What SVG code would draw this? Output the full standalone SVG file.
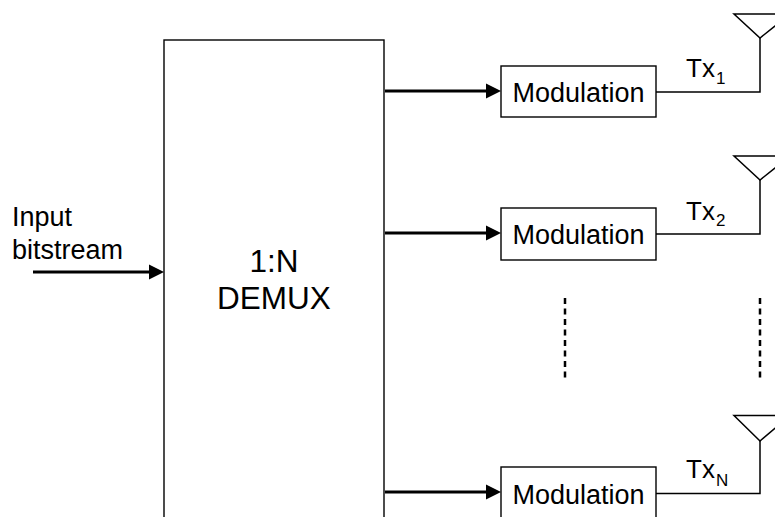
<svg xmlns="http://www.w3.org/2000/svg" width="775" height="517" viewBox="0 0 775 517">
<style>
text{font-family:"Liberation Sans",Arial,sans-serif;fill:#000}
.t{font-size:31.500px}
.m{font-size:27px}
.x{font-size:26px}
.s{font-size:17px}
.box{fill:#fff;stroke:#000;stroke-width:1.4}
.thin{fill:none;stroke:#000;stroke-width:1.5}
.thick{fill:none;stroke:#000;stroke-width:3}
.dash{fill:none;stroke:#000;stroke-width:2.5;stroke-dasharray:6 4.5}
.head{fill:#000}
</style>
<rect width="775" height="517" fill="#fff"/>
<g id="connectors">
<path class="thick" d="M33 272H150"/><path class="head" d="M149 264.500L164 272L149 279.500Z"/>
<path class="thick" d="M385 91H487"/><path class="head" d="M486 83.500L501 91L486 98.500Z"/>
<path class="thick" d="M385 233H487"/><path class="head" d="M486 225.500L501 233L486 240.500Z"/>
<path class="thick" d="M385 492H487"/><path class="head" d="M486 484.500L501 492L486 499.500Z"/>
<path class="thin" d="M656 92H760V38"/>
<path class="thin" d="M656 234H760V180"/>
<path class="thin" d="M656 493.500H760V441"/>
<path class="dash" d="M565 298V378"/>
<path class="dash" d="M760 298V378"/>
</g>
<g id="demux"><rect class="box" x="164" y="40" width="220" height="490"/>
<text class="t" x="274" y="272" text-anchor="middle">1:N</text>
<text class="t" x="274" y="309" text-anchor="middle">DEMUX</text></g>
<g id="input"><text class="m" x="12" y="226">Input</text><text class="m" x="12" y="259">bitstream</text></g>
<g id="mod1"><rect class="box" x="501" y="66" width="155" height="51"/><text class="m" x="578.500" y="102" text-anchor="middle">Modulation</text></g>
<g id="mod2"><rect class="box" x="501" y="208" width="155" height="52"/><text class="m" x="578.500" y="244" text-anchor="middle">Modulation</text></g>
<g id="modN"><rect class="box" x="501" y="467" width="155" height="51"/><text class="m" x="578.500" y="504" text-anchor="middle">Modulation</text></g>
<g id="tx1"><text class="x" x="686" y="77">Tx<tspan class="s" dx="1" dy="7">1</tspan></text></g>
<g id="tx2"><text class="x" x="686" y="220">Tx<tspan class="s" dx="1" dy="6">2</tspan></text></g>
<g id="txN"><text class="x" x="686" y="478">Tx<tspan class="s" dx="1" dy="8">N</tspan></text></g>
<g id="ant1"><path class="thin" d="M734 14H790L760 38Z"/></g>
<g id="ant2"><path class="thin" d="M734 156H790L760 180Z"/></g>
<g id="antN"><path class="thin" d="M734 415.500H790L760 441Z"/></g>
</svg>
